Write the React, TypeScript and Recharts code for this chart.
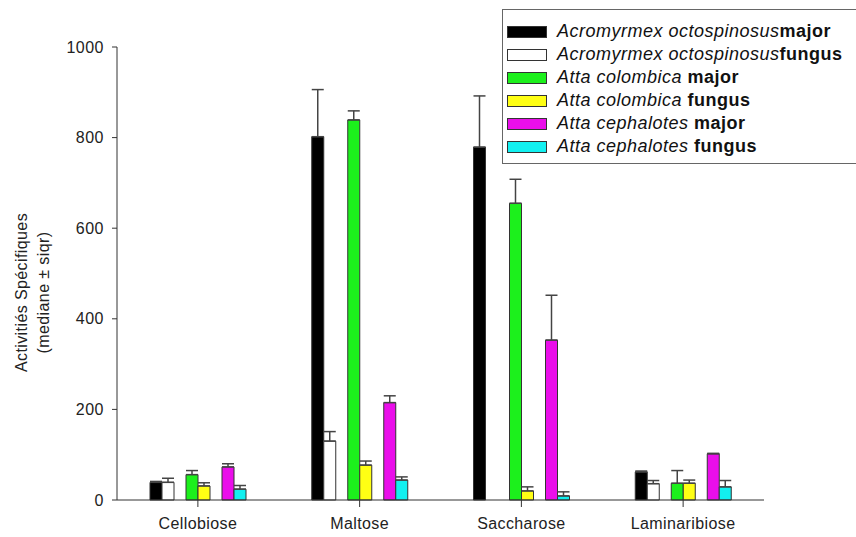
import React from "react";
import { BarChart, Bar, XAxis, YAxis, ErrorBar } from "recharts";

const categories = ["Cellobiose", "Maltose", "Saccharose", "Laminaribiose"];

const acroMajor = [39, 802, 779, 62];
const acroMajorErr = [2, 104, 113, 2];
const acroFungus = [39, 130, null, 36];
const acroFungusErr = [9, 21, null, 7];
const colMajor = [56, 839, 655, 37];
const colMajorErr = [9, 20, 53, 28];
const colFungus = [31, 77, 20, 37];
const colFungusErr = [7, 9, 9, 7];
const cephMajor = [73, 215, 353, 102];
const cephMajorErr = [7, 15, 99, 1];
const cephFungus = [24, 44, 9, 29];
const cephFungusErr = [8, 7, 9, 14];

const yTicks = [0, 200, 400, 600, 800, 1000];

const series = [
  { key: "acroMajor", species: "Acromyrmex octospinosus", caste: "major", color: "#000000", values: acroMajor, errs: acroMajorErr },
  { key: "acroFungus", species: "Acromyrmex octospinosus", caste: "fungus", color: "#ffffff", values: acroFungus, errs: acroFungusErr },
  { key: "colMajor", species: "Atta colombica", caste: " major", color: "#1cf01c", values: colMajor, errs: colMajorErr },
  { key: "colFungus", species: "Atta colombica", caste: " fungus", color: "#ffff14", values: colFungus, errs: colFungusErr },
  { key: "cephMajor", species: "Atta cephalotes", caste: " major", color: "#ea0eea", values: cephMajor, errs: cephMajorErr },
  { key: "cephFungus", species: "Atta cephalotes", caste: " fungus", color: "#12f0f0", values: cephFungus, errs: cephFungusErr },
];

const data = categories.map((name, i) => {
  const row: any = { name };
  series.forEach((s) => {
    row[s.key] = s.values[i];
    row[s.key + "Err"] = s.errs[i] == null ? null : [0, s.errs[i]];
  });
  return row;
});

const font = "'Liberation Sans', Arial, sans-serif";

// legend sits in its own box at the top right, partly cut by the page edge
function LegendBox() {
  return (
    <div
      style={{
        position: "absolute",
        left: 502,
        top: 9,
        width: 360,
        border: "1.5px solid #666",
        padding: "10px 0 5px 4px",
        background: "#fff",
        fontFamily: font,
        fontSize: 18,
        letterSpacing: 0.5,
        color: "#111",
      }}
    >
      {series.map((s) => (
        <div key={s.key} style={{ display: "flex", alignItems: "center", height: 23 }}>
          <span
            style={{
              display: "inline-block",
              width: 38,
              height: 10,
              background: s.color,
              border: "1px solid #333",
              marginRight: 10,
            }}
          />
          <span style={{ fontStyle: "italic" }}>{s.species}</span>
          <span style={{ fontWeight: "bold", whiteSpace: "pre" }}>{s.caste}</span>
        </div>
      ))}
    </div>
  );
}

function YLabel({ viewBox }: any) {
  const cy = viewBox.y + viewBox.height / 2 + 19;
  return (
    <g fill="#222" fontSize={16} style={{ letterSpacing: 0.4 }}>
      <text x={21} y={cy} transform={`rotate(-90 21 ${cy})`} textAnchor="middle" dominantBaseline="central">
        Activitiés Spécifiques
      </text>
      <text x={43} y={cy} transform={`rotate(-90 43 ${cy})`} textAnchor="middle" dominantBaseline="central">
        (mediane ± siqr)
      </text>
    </g>
  );
}

function renderBar(s: any) {
  return (
    <Bar key={s.key} dataKey={s.key} fill={s.color} stroke="#333" strokeWidth={1} isAnimationActive={false}>
      <ErrorBar dataKey={s.key + "Err"} width={6} stroke="#444" strokeWidth={1.5} direction="y" />
    </Bar>
  );
}

export default function App() {
  return (
    <div style={{ position: "absolute", left: 0, top: 0, width: 856, height: 537, background: "#fff", fontFamily: font, overflow: "hidden" }}>
      <BarChart
        width={856}
        height={537}
        data={data}
        margin={{ top: 47, right: 92, left: 57, bottom: 7 }}
        barGap={0}
        barSize={12}
      >
        <XAxis
          dataKey="name"
          stroke="#333"
          tickSize={7}
          tickMargin={11}
          height={30}
          tick={{ fill: "#222", fontSize: 16, letterSpacing: 0.4 }}
        />
        <YAxis
          domain={[0, 1000]}
          ticks={yTicks}
          width={60}
          stroke="#333"
          tickSize={5}
          tickMargin={8}
          tick={{ fill: "#222", fontSize: 16, letterSpacing: 0.5 }}
          label={{ content: <YLabel /> }}
        />
        {series.slice(0, 2).map(renderBar)}
        <Bar dataKey="spacerA" fill="none" isAnimationActive={false} />
        {series.slice(2, 4).map(renderBar)}
        <Bar dataKey="spacerB" fill="none" isAnimationActive={false} />
        {series.slice(4, 6).map(renderBar)}
      </BarChart>
      <LegendBox />
    </div>
  );
}
